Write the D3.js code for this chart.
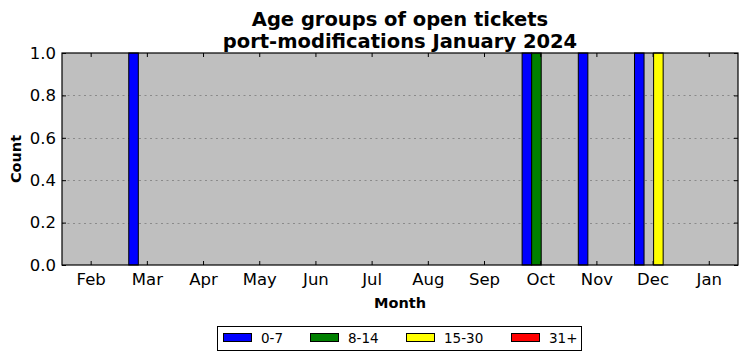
<!DOCTYPE html>
<html><head><meta charset="utf-8">
<script src="https://cdn.jsdelivr.net/npm/d3@7"></script>
<style>body{margin:0;background:#fff}svg{display:block;font-family:"DejaVu Sans",sans-serif}</style>
</head><body><svg id="c" width="747" height="361"></svg>
<script>
const months = ["Feb","Mar","Apr","May","Jun","Jul","Aug","Sep","Oct","Nov","Dec","Jan"];
const seriesNames = ["0-7","8-14","15-30","31+"];
const seriesColors = ["#0000ff","#008000","#ffff00","#ff0000"];
const v0_7   = [0,1,0,0,0,0,0,0,1,1,1,0];
const v8_14  = [0,0,0,0,0,0,0,0,1,0,0,0];
const v15_30 = [0,0,0,0,0,0,0,0,0,0,1,0];
const v31    = [0,0,0,0,0,0,0,0,0,0,0,0];
const yTicks = [0,0.2,0.4,0.6,0.8,1.0];
const series = [v0_7, v8_14, v15_30, v31];

const svg = d3.select("#c");
const L=62,R=738,T=53,B=265;
const x = d3.scaleLinear().domain([-0.51,11.52]).range([L,R]);
const y = d3.scaleLinear().domain([0,1]).range([B,T]);
const bw = 0.17;

svg.append("rect").attr("x",L).attr("y",T).attr("width",R-L).attr("height",B-T).attr("fill","#bfbfbf");

// grid
svg.append("g").selectAll("line").data(yTicks.filter(d=>d>0&&d<1)).join("line")
  .attr("x1",L).attr("x2",R).attr("y1",d=>Math.round(y(d))+0.5).attr("y2",d=>Math.round(y(d))+0.5)
  .attr("stroke","#8a8a8a").attr("stroke-width",1).attr("stroke-dasharray","2,3.5");

// bars
const bars = [];
series.forEach((s,k)=>s.forEach((v,i)=>bars.push({k,i,v})));
svg.append("g").selectAll("rect").data(bars).join("rect")
  .attr("x",d=>x(d.i - 2*bw + d.k*bw + 0.018))
  .attr("width",x(bw)-x(0))
  .attr("y",d=>y(d.v))
  .attr("height",d=>y(0)-y(d.v))
  .attr("fill",d=>seriesColors[d.k])
  .attr("stroke","#000").attr("stroke-width",1);

// axes
const gB = svg.append("g").attr("transform",`translate(0,${B})`)
  .call(d3.axisBottom(x).tickValues(d3.range(12)).tickFormat(i=>months[i]).tickSizeInner(-4).tickSizeOuter(0).tickPadding(8));
const gT = svg.append("g").attr("transform",`translate(0,${T})`)
  .call(d3.axisTop(x).tickValues(d3.range(12)).tickFormat("").tickSizeInner(-4).tickSizeOuter(0));
const gL = svg.append("g").attr("transform",`translate(${L},0)`)
  .call(d3.axisLeft(y).tickValues(yTicks).tickFormat(d3.format(".1f")).tickSizeInner(-4).tickSizeOuter(0).tickPadding(6));
const gR = svg.append("g").attr("transform",`translate(${R},0)`)
  .call(d3.axisRight(y).tickValues(yTicks).tickFormat("").tickSizeInner(-4).tickSizeOuter(0));
[gB,gT,gL,gR].forEach(g=>{
  g.select(".domain").remove();
  g.selectAll(".tick line").attr("stroke","#000").attr("stroke-width",1);
  g.selectAll("text").attr("font-family","DejaVu Sans").attr("font-size",16.5).attr("fill","#000");
});
svg.append("rect").attr("x",L).attr("y",T).attr("width",R-L).attr("height",B-T)
  .attr("fill","none").attr("stroke","#000").attr("stroke-width",1.2);

// titles
svg.append("text").attr("x",400).attr("y",26).attr("text-anchor","middle")
  .attr("font-size",19.5).attr("font-weight","bold").text("Age groups of open tickets");
svg.append("text").attr("x",400).attr("y",48).attr("text-anchor","middle")
  .attr("font-size",19.5).attr("font-weight","bold").text("port-modifications January 2024");
svg.append("text").attr("x",400).attr("y",308).attr("text-anchor","middle")
  .attr("font-size",14.5).attr("font-weight","bold").text("Month");
svg.append("text").attr("transform","translate(21,159) rotate(-90)").attr("text-anchor","middle")
  .attr("font-size",14.5).attr("font-weight","bold").text("Count");

// legend
const lg = svg.append("g");
lg.append("rect").attr("x",217.5).attr("y",326.5).attr("width",364).attr("height",24)
  .attr("fill","#fff").attr("stroke","#000").attr("stroke-width",1);
const lx = [223,310,406,511];
seriesNames.forEach((n,k)=>{
  lg.append("rect").attr("x",lx[k]+0.5).attr("y",333.5).attr("width",28).attr("height",8)
    .attr("fill",seriesColors[k]).attr("stroke","#000").attr("stroke-width",1);
  lg.append("text").attr("x",lx[k]+38).attr("y",343).attr("font-size",13.5).text(n);
});
</script></body></html>
